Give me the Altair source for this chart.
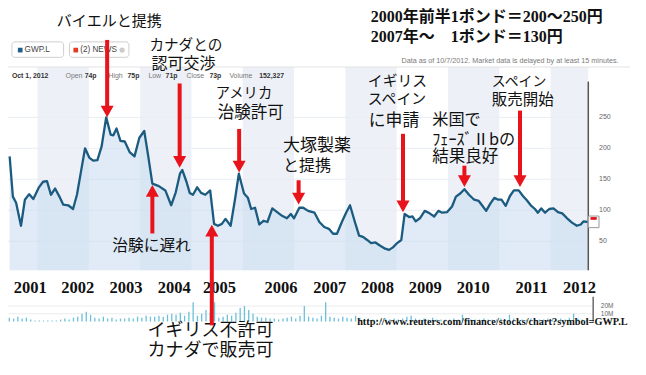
import altair as alt
import pandas as pd

# ---------------- data ----------------
# GW Pharmaceuticals (GWP.L) price, pence; x = fractional year
price_t = [2001.456, 2001.519, 2001.582, 2001.677, 2001.753, 2001.837, 2001.918, 2002.027,
           2002.108, 2002.184, 2002.261, 2002.342, 2002.426, 2002.502, 2002.597, 2002.692,
           2002.768, 2002.850, 2002.926, 2003.008, 2003.084, 2003.167, 2003.249, 2003.338,
           2003.426, 2003.478, 2003.540, 2003.616, 2003.700, 2003.795, 2003.890, 2003.985,
           2004.080, 2004.162, 2004.238, 2004.365, 2004.491, 2004.605, 2004.694, 2004.776,
           2004.821, 2004.903, 2004.966, 2005.030, 2005.112, 2005.188, 2005.270, 2005.365,
           2005.441, 2005.517, 2005.593, 2005.664, 2005.764, 2005.848, 2005.924, 2006.025,
           2006.101, 2006.164, 2006.240, 2006.323, 2006.405, 2006.481, 2006.576, 2006.671,
           2006.766, 2006.861, 2006.937, 2007.000, 2007.103, 2007.179, 2007.274, 2007.399,
           2007.494, 2007.589, 2007.679, 2007.761, 2007.837, 2007.932, 2008.015, 2008.091,
           2008.186, 2008.268, 2008.344, 2008.426, 2008.502, 2008.586, 2008.673, 2008.776,
           2008.852, 2008.928, 2009.010, 2009.091, 2009.156, 2009.243, 2009.308, 2009.371,
           2009.453, 2009.548, 2009.643, 2009.732, 2009.814, 2009.890, 2009.985, 2010.080,
           2010.156, 2010.240, 2010.321, 2010.411, 2010.511, 2010.601, 2010.664, 2010.745,
           2010.829, 2010.905, 2010.981, 2011.044, 2011.126, 2011.209, 2011.285, 2011.380,
           2011.462, 2011.538, 2011.614, 2011.696, 2011.753, 2011.818, 2011.894, 2011.975,
           2012.057, 2012.146, 2012.228, 2012.323, 2012.418, 2012.513, 2012.589, 2012.641,
           2012.722]
price_p = [187, 122, 112, 75, 117, 126, 118, 137,
           146, 147, 125, 135, 122, 109, 108, 102,
           125, 164, 200, 185, 180, 181, 203, 250,
           222, 221, 232, 212, 211, 194, 187, 217,
           228, 185, 143, 139, 132, 108, 129, 159,
           165, 146, 128, 125, 137, 128, 125, 132,
           78, 75, 78, 86, 75, 117, 159, 127,
           120, 102, 104, 77, 83, 81, 103, 97,
           91, 87, 94, 87, 104, 104, 99, 96,
           81, 73, 70, 62, 62, 81, 96, 108,
           81, 59, 57, 52, 47, 48, 43, 38,
           36, 40, 47, 52, 94, 89, 90, 82,
           87, 99, 95, 90, 99, 96, 97, 106,
           122, 127, 134, 125, 117, 115, 108, 99,
           111, 120, 117, 117, 107, 123, 132, 132,
           123, 116, 108, 102, 96, 103, 96, 102,
           103, 97, 95, 87, 80, 75, 77, 82,
           81]

# monthly volume (millions of shares), from June 2001
vol_first = 2001.45
vol_m = [5, 3.8, 6.3, 3.8, 5, 2.5, 1.3, 1.3, 1.3, 1.3,
         1.3, 1.3, 2.5, 3.8, 2.5, 5, 6.3, 10, 12.5, 8.8,
         5, 3.8, 6.3, 3.8, 5, 2.5, 3.8, 3.8, 5, 3.8,
         6.3, 5, 7.5, 6.3, 6.3, 7.5, 6.3, 8.8, 10, 8.8,
         11.3, 7.5, 12.5, 25, 7.5, 10, 15, 11.3, 25, 5,
         6.3, 8.8, 7.5, 11.3, 17.5, 20, 15, 10, 6.3, 5,
         5, 3.8, 3.8, 2.5, 3.8, 5, 6.3, 3.8, 7.5, 20,
         6.3, 5, 3.8, 7.5, 25, 6.3, 5, 3.8, 6.3, 5,
         3.8, 7.5, 5, 2.5, 3.8, 2.5, 2.5, 2.5, 3.8, 2.5,
         3.8, 2.5, 3.8, 6.3, 7.5, 3.8, 2.5, 3.8, 2.5, 5,
         2.5, 2.5, 2.5, 2.5, 3.8, 2.5, 8.8, 3.8, 2.5, 2.5,
         2.5, 3.8, 2.5, 2.5, 2.5, 3.8, 2.5, 8.8, 3.8, 2.5,
         2.5, 2.5, 3.8, 2.5, 2.5, 2.5, 3.8, 2.5, 2.5, 3.8,
         2.5, 5, 10, 3.8, 2.5, 2.5]

band_start = [2002, 2004, 2006, 2008, 2010, 2012]
last_t = 2012.736          # last trading date shown (Oct 2012)
panel_top = 331.25
panel_base = 3.1

tick_p = [50, 100, 150, 200, 250]
vol_tick = [10, 20]

year_text = ["2001", "2002", "2003", "2004", "2005", "2006",
             "2007", "2008", "2009", "2010", "2011", "2012"]
year_t = [2001.860, 2002.782, 2003.723, 2004.664, 2005.548, 2006.746,
          2007.697, 2008.628, 2009.560, 2010.491, 2011.632, 2012.564]
year_p = -25

ann_text = ["バイエルと提携", "カナダとの", "認可交渉", "アメリカ", "治験許可",
            "大塚製薬", "と提携", "イギリス", "スペイン", "に申請",
            "米国で", "ﾌｪｰｽﾞⅡbの", "結果良好", "スペイン", "販売開始",
            "治験に遅れ", "イギリス不許可", "カナダで販売可"]
ann_t = [2002.375, 2004.181, 2004.219, 2005.473, 2005.511,
         2006.785, 2006.785, 2008.439, 2008.439, 2008.458,
         2009.694, 2009.694, 2009.694, 2010.854, 2010.854,
         2003.458, 2004.143, 2004.143]
ann_p = [405.5, 365.5, 336.0, 287.5, 257.8,
         203.1, 171.9, 307.8, 278.1, 244.5,
         245.3, 214.1, 185.9, 307.8, 278.1,
         42.2, -95.3, -126.6]
ann_fs = [15, 14.6, 16, 14.3, 16.5,
          17, 16, 14.8, 14.8, 16.8,
          16.2, 16.2, 16.5, 13.9, 15.5,
          15.7, 18, 18]

yen_text = ["2000年前半1ポンド＝200～250円", "2007年～　1ポンド＝130円"]
yen_t = [2008.496, 2008.496]
yen_p = [411.7, 380.5]

url_text = "http://www.reuters.com/finance/stocks/chart?symbol=GWP.L"

arrow_t = [2003.357, 2004.770, 2005.930, 2007.089, 2004.238, 2005.397, 2009.124, 2010.321, 2011.405]
arrow_tail = [375, 304.7, 231.25, 148.4, 62.5, -85.9, 223.4, 171.9, 260.9]
arrow_tip = [250, 168.75, 160.9, 109.4, 140.6, 76.6, 96.9, 137.5, 137.5]

quote_lab = ["Open", "High", "Low", "Close", "Volume"]
quote_lab_t = [2002.546, 2003.382, 2004.162, 2004.903, 2005.740]
quote_val = ["Oct 1, 2012", "74p", "75p", "71p", "73p", "152,327"]
quote_val_t = [2001.500, 2002.918, 2003.754, 2004.496, 2005.351, 2006.321]
quote_p = 317.0

# ---------------- scales ----------------
XS = alt.Scale(domain=[2001.424, 2013.705], nice=False, zero=False)
YS = alt.Scale(domain=[-153.125, 426.5625], nice=False, zero=False)
VS = alt.Scale(domain=[-58.75, 405.0], nice=False, zero=False)

JP = "Noto Sans CJK JP"
SERIF = "Liberation Serif"
SANS = "Liberation Sans"


def X(f="t"):
    return alt.X(f"{f}:Q", scale=XS, axis=None)


def Y(f="p", s=YS):
    return alt.Y(f"{f}:Q", scale=s, axis=None)


# ---------------- layers ----------------
price_df = pd.DataFrame({"t": price_t, "p": price_p})
price_df["base"] = panel_base

bands_df = pd.DataFrame({"t": band_start})
bands_df["t2"] = [min(b + 1, last_t) for b in band_start]
bands_df["lo"] = panel_base
bands_df["hi"] = panel_top
bands = alt.Chart(bands_df).mark_rect(color="#edf1f7").encode(
    x=X(), x2="t2:Q", y=Y("lo"), y2="hi:Q")

grid_df = pd.DataFrame({"p": tick_p})
grid_df["t"] = 2001.424
grid_df["t2"] = last_t
grid = alt.Chart(grid_df).mark_rule(color="#e9edf2", strokeWidth=1).encode(
    x=X(), x2="t2:Q", y=Y())

area = alt.Chart(price_df).mark_area(color="#c6dbf0", opacity=0.55).encode(
    x=X(), y=Y(), y2="base:Q")
line = alt.Chart(price_df).mark_line(color="#1b5b80", strokeWidth=2.3,
                                     strokeJoin="round").encode(x=X(), y=Y())

top_df = pd.DataFrame({"t": [2001.424], "t2": [2013.55], "p": [panel_top]})
top_line = alt.Chart(top_df).mark_rule(color="#e2e2e2").encode(x=X(), x2="t2:Q", y=Y())

axis_df = pd.DataFrame({"t": [last_t], "lo": [panel_base], "hi": [307.8]})
axis_line = alt.Chart(axis_df).mark_rule(color="#555555", strokeWidth=1.5).encode(
    x=X(), y=Y("lo"), y2="hi:Q")

tick_df = pd.DataFrame({"p": tick_p, "label": [str(v) for v in tick_p]})
tick_df["t"] = 2012.945
tick_labels = alt.Chart(tick_df).mark_text(align="left", baseline="middle", font=SANS,
                                           fontSize=7, color="#666666").encode(
    x=X(), y=Y(), text="label:N")

marker_df = pd.DataFrame({"t": [last_t], "t2": [2012.945], "lo": [71.9], "hi": [90.6]})
marker = alt.Chart(marker_df).mark_rect(fill="white", stroke="#999999", strokeWidth=1).encode(
    x=X(), x2="t2:Q", y=Y("lo"), y2="hi:Q")
marker_red_df = pd.DataFrame({"t": [2012.78], "t2": [2012.90], "lo": [84.5], "hi": [89.0]})
marker_red = alt.Chart(marker_red_df).mark_rect(color="#e8131b").encode(
    x=X(), x2="t2:Q", y=Y("lo"), y2="hi:Q")

vol_df = pd.DataFrame({"v": vol_m})
vol_df["t"] = [vol_first + i / 12 for i in range(len(vol_m))]
vol_df["z"] = 0
vol = alt.Chart(vol_df).mark_rule(color="#6cc0da", strokeWidth=1.3).encode(
    x=X(), y=Y("v", VS), y2="z:Q")

vgrid_df = pd.DataFrame({"v": vol_tick})
vgrid_df["t"] = 2001.424
vgrid_df["t2"] = 2012.83
vgrid = alt.Chart(vgrid_df).mark_rule(color="#ececec").encode(x=X(), x2="t2:Q", y=Y("v", VS))
vaxis_df = pd.DataFrame({"t": [2012.831], "lo": [0], "hi": [32]})
vaxis = alt.Chart(vaxis_df).mark_rule(color="#555555", strokeWidth=1.3).encode(
    x=X(), y=Y("lo", VS), y2="hi:Q")
vlab_df = pd.DataFrame({"v": vol_tick, "label": [f"{v}M" for v in vol_tick]})
vlab_df["t"] = 2012.98
vlabels = alt.Chart(vlab_df).mark_text(align="left", baseline="middle", font=SANS,
                                       fontSize=6.5, color="#666666").encode(
    x=X(), y=Y("v", VS), text="label:N")

# header of the original quote page
box_df = pd.DataFrame({"t": [2001.500, 2002.622], "t2": [2002.508, 2003.781]})
box_df["lo"] = 346.9
box_df["hi"] = 371.9
boxes = alt.Chart(box_df).mark_rect(fill="white", stroke="#cfcfcf", strokeWidth=1,
                                    cornerRadius=3).encode(
    x=X(), x2="t2:Q", y=Y("lo"), y2="hi:Q")
sq_df = pd.DataFrame({"t": [2001.662, 2002.745], "c": ["#1d5f8a", "#e23a23"]})
sq_df["p"] = 358.6
squares = alt.Chart(sq_df).mark_square(size=22, opacity=1).encode(
    x=X(), y=Y(), color=alt.Color("c:N", scale=None))
circ_df = pd.DataFrame({"t": [2003.648], "p": [358.6]})
circ = alt.Chart(circ_df).mark_circle(size=28, color="#cccccc", opacity=1).encode(x=X(), y=Y())
blab_df = pd.DataFrame({"t": [2001.747, 2002.831], "label": ["GWP.L", "(2) NEWS"]})
blab_df["p"] = 358.6
blabels = alt.Chart(blab_df).mark_text(align="left", baseline="middle", font=SANS,
                                       fontSize=8.2, color="#444444").encode(
    x=X(), y=Y(), text="label:N")

asof_df = pd.DataFrame({"t": [2013.325], "p": [340.6],
                        "label": ["Data as of 10/7/2012. Market data is delayed by at least 15 minutes."]})
asof = alt.Chart(asof_df).mark_text(align="right", baseline="middle", font=SANS,
                                    fontSize=7.2, color="#7a7a7a").encode(
    x=X(), y=Y(), text="label:N")

ql_df = pd.DataFrame({"t": quote_lab_t, "label": quote_lab})
ql_df["p"] = quote_p
qlabels = alt.Chart(ql_df).mark_text(align="left", baseline="middle", font=SANS,
                                     fontSize=6.9, color="#777777").encode(
    x=X(), y=Y(), text="label:N")
qv_df = pd.DataFrame({"t": quote_val_t, "label": quote_val})
qv_df["p"] = quote_p
qvalues = alt.Chart(qv_df).mark_text(align="left", baseline="middle", font=SANS,
                                     fontSize=6.9, fontWeight="bold", color="#333333").encode(
    x=X(), y=Y(), text="label:N")

# annotator's additions
year_df = pd.DataFrame({"t": year_t, "label": year_text})
year_df["p"] = year_p
years = alt.Chart(year_df).mark_text(align="center", baseline="middle", font=SERIF,
                                     fontWeight="bold", fontSize=16.5, color="#111111").encode(
    x=X(), y=Y(), text="label:N")

ann_df = pd.DataFrame({"t": ann_t, "p": ann_p, "label": ann_text, "fs": ann_fs})
ann = alt.Chart(ann_df).mark_text(align="left", baseline="middle", font=JP,
                                  color="#111111").encode(
    x=X(), y=Y(), text="label:N", size=alt.Size("fs:Q", scale=None))

yen_df = pd.DataFrame({"t": yen_t, "p": yen_p, "label": yen_text})
yen = alt.Chart(yen_df).mark_text(align="left", baseline="middle",
                                  font=f"{SERIF}, {JP}", fontWeight="bold",
                                  fontSize=16, color="#111111").encode(
    x=X(), y=Y(), text="label:N")

url_df = pd.DataFrame({"t": [2008.230], "p": [-81.25], "label": [url_text]})
url = alt.Chart(url_df).mark_text(align="left", baseline="middle", font=SERIF,
                                  fontWeight="bold", fontSize=10.3, color="#111111").encode(
    x=X(), y=Y(), text="label:N")

arrow_df = pd.DataFrame({"t": arrow_t, "tail": arrow_tail, "tip": arrow_tip})
arrow_df["down"] = arrow_df["tail"] > arrow_df["tip"]
arrow_df["end"] = [tp + 15 if d else tp - 15
                   for tp, d in zip(arrow_df["tip"], arrow_df["down"])]
RED = "#e8131b"
shafts = alt.Chart(arrow_df).mark_rule(color=RED, strokeWidth=4).encode(
    x=X(), y=Y("tail"), y2="end:Q")
heads_down = alt.Chart(arrow_df[arrow_df["down"]]).mark_point(
    shape="M0,0L-1,-1.8L1,-1.8Z", size=169, filled=True, color=RED, opacity=1).encode(
    x=X(), y=Y("tip"))
heads_up = alt.Chart(arrow_df[~arrow_df["down"]]).mark_point(
    shape="M0,0L-1,1.8L1,1.8Z", size=169, filled=True, color=RED, opacity=1).encode(
    x=X(), y=Y("tip"))

chart = alt.layer(
    bands, grid, area, line, top_line, axis_line, tick_labels, marker, marker_red,
    vgrid, vol, vaxis, vlabels,
    boxes, squares, circ, blabels, asof, qlabels, qvalues,
    years, ann, yen, url, shafts, heads_down, heads_up,
).resolve_scale(y="independent").properties(
    width=630, height=359, padding=0, background="white",
    autosize=alt.AutoSizeParams(type="none"),
).configure_view(stroke=None)

chart.save("out.html", embed_options={"renderer": "svg", "actions": False})
